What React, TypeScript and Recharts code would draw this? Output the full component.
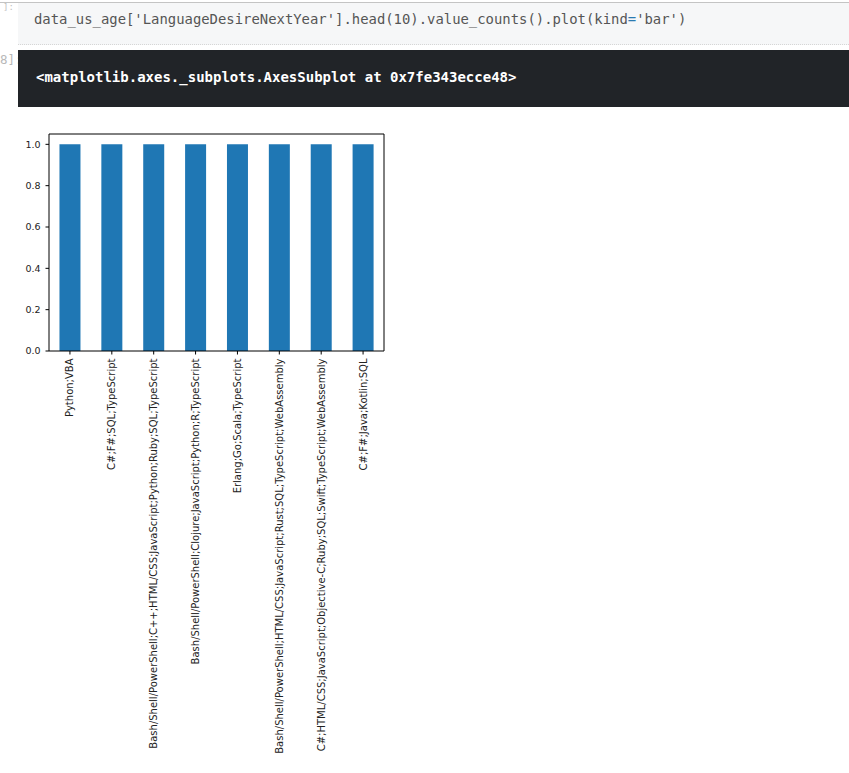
import React from "react";
import { BarChart, Bar, XAxis, YAxis, CartesianGrid } from "recharts";

const categories = [
  "Python;VBA",
  "C#;F#;SQL;TypeScript",
  "Bash/Shell/PowerShell;C++;HTML/CSS;JavaScript;Python;Ruby;SQL;TypeScript",
  "Bash/Shell/PowerShell;Clojure;JavaScript;Python;R;TypeScript",
  "Erlang;Go;Scala;TypeScript",
  "Bash/Shell/PowerShell;HTML/CSS;JavaScript;Rust;SQL;TypeScript;WebAssembly",
  "C#;HTML/CSS;JavaScript;Objective-C;Ruby;SQL;Swift;TypeScript;WebAssembly",
  "C#;F#;Java;Kotlin;SQL",
];
const counts = [1, 1, 1, 1, 1, 1, 1, 1];
const yTicks = [0, 0.2, 0.4, 0.6, 0.8, 1.0];

const data = categories.map((name, i) => ({ name, count: counts[i] }));

const mono = "'DejaVu Sans Mono', monospace";
const mpl = "'DejaVu Sans', sans-serif";

function RotatedTick(props: any) {
  const { x, y, payload } = props;
  return (
    <text
      x={x}
      y={y}
      dy="0.35em"
      textAnchor="end"
      fontSize={10}
      fontFamily={mpl}
      fill="#222"
      transform={`rotate(-90, ${x}, ${y})`}
    >
      {payload.value}
    </text>
  );
}

// top and right spines of the axes box
const topSpine = ({ offset }: any) => [offset.top];
const rightSpine = ({ offset }: any) => [offset.left + offset.width];

export default function App() {
  return (
    <div
      style={{
        position: "absolute",
        left: 0,
        top: 0,
        width: 849,
        height: 773,
        background: "#fff",
        overflow: "hidden",
      }}
    >
      {/* top rule of the notebook cell */}
      <div style={{ position: "absolute", left: 0, top: 2, width: 849, height: 1, background: "#c4c4c4" }} />

      {/* prompts */}
      <div style={{ position: "absolute", left: 3, top: 3, fontFamily: mono, fontSize: 9, lineHeight: "9px", color: "#c0c0c0", whiteSpace: "nowrap" }}>
        ]:
      </div>
      <div style={{ position: "absolute", left: 0, top: 52, fontFamily: mono, fontSize: 12.5, color: "#b8b8b8", whiteSpace: "nowrap" }}>
        8]:
      </div>

      {/* code cell */}
      <div
        style={{
          position: "absolute",
          left: 18,
          top: 3,
          width: 831,
          height: 41,
          background: "#f6f7f8",
          borderBottom: "1px dotted #d6d6d6",
        }}
      >
        <div
          style={{
            position: "absolute",
            left: 16,
            top: 8,
            fontFamily: mono,
            fontSize: 13.9,
            color: "#555",
            whiteSpace: "nowrap",
          }}
        >
          data_us_age['LanguageDesireNextYear'].head(10).value_counts().plot(kind
          <span style={{ color: "#2a7ab0" }}>=</span>'bar')
        </div>
      </div>

      {/* output repr */}
      <div
        style={{
          position: "absolute",
          left: 18,
          top: 50,
          width: 831,
          height: 57,
          background: "#212428",
        }}
      >
        <div
          style={{
            position: "absolute",
            left: 18,
            top: 19,
            fontFamily: mono,
            fontSize: 14,
            fontWeight: "bold",
            color: "#fff",
            whiteSpace: "nowrap",
          }}
        >
          {"<matplotlib.axes._subplots.AxesSubplot at 0x7fe343ecce48>"}
        </div>
      </div>

      {/* the plot */}
      <div style={{ position: "absolute", left: 0, top: 120 }}>
        <BarChart
          width={400}
          height={650}
          data={data}
          margin={{ top: 14, right: 16, bottom: 9, left: 0 }}
          barCategoryGap="25%"
        >
          <CartesianGrid
            stroke="#000"
            strokeWidth={1}
            horizontalCoordinatesGenerator={topSpine}
            verticalCoordinatesGenerator={rightSpine}
            syncWithTicks={false}
          />
          <XAxis
            dataKey="name"
            interval={0}
            height={410}
            tickSize={3.5}
            tickMargin={4}
            tick={<RotatedTick />}
            axisLine={{ stroke: "#000", strokeWidth: 1 }}
            tickLine={{ stroke: "#000", strokeWidth: 1 }}
          />
          <YAxis
            width={49}
            domain={[0, 1.05]}
            ticks={yTicks}
            tickFormatter={(v: number) => v.toFixed(1)}
            tickSize={3.5}
            tickMargin={5}
            tick={{ fontSize: 9.5, fontFamily: mpl, fill: "#222" }}
            axisLine={{ stroke: "#000", strokeWidth: 1 }}
            tickLine={{ stroke: "#000", strokeWidth: 1 }}
          />
          <Bar dataKey="count" fill="#1f77b4" isAnimationActive={false} />
        </BarChart>
      </div>
    </div>
  );
}
